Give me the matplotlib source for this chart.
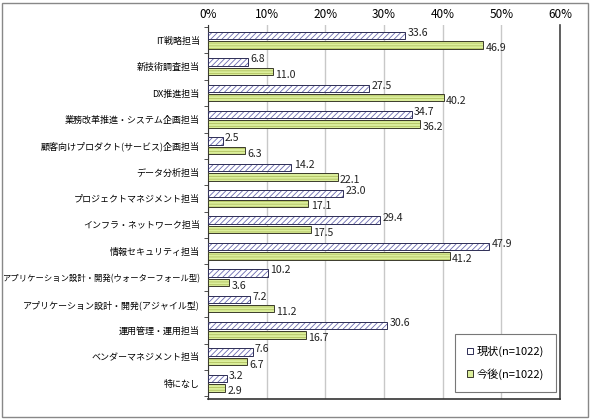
import matplotlib
matplotlib.use("Agg")
import matplotlib.pyplot as plt
from matplotlib.patches import Rectangle, Patch
import numpy as np

plt.rcParams['font.family'] = ['Noto Sans CJK JP', 'DejaVu Sans']
plt.rcParams['hatch.linewidth'] = 0.6

categories = ["IT戦略担当", "新技術調査担当", "DX推進担当", "業務改革推進・システム企画担当",
              "顧客向けプロダクト(サービス)企画担当", "データ分析担当", "プロジェクトマネジメント担当",
              "インフラ・ネットワーク担当", "情報セキュリティ担当",
              "アプリケーション設計・開発(ウォーターフォール型)", "アプリケーション設計・開発(アジャイル型)",
              "運用管理・運用担当", "ベンダーマネジメント担当", "特になし"]
current = [33.6, 6.8, 27.5, 34.7, 2.5, 14.2, 23.0, 29.4, 47.9, 10.2, 7.2, 30.6, 7.6, 3.2]
future = [46.9, 11.0, 40.2, 36.2, 6.3, 22.1, 17.1, 17.5, 41.2, 3.6, 11.2, 16.7, 6.7, 2.9]
series_names = ["現状(n=1022)", "今後(n=1022)"]
xticks = [0, 10, 20, 30, 40, 50, 60]

fig = plt.figure(figsize=(5.9, 4.2), dpi=100)
ax = fig.add_axes([0.3525, 0.05, 0.5966, 0.89])

y = np.arange(len(categories))
off = 0.18
h = 0.28
ax.barh(y - off, current, height=h, color='white', edgecolor='#6a6ab0', hatch='//////',
        linewidth=0, zorder=3)
ax.barh(y - off, current, height=h, color='none', edgecolor='#2d2d55', linewidth=0.7, zorder=4)
ax.barh(y + off, future, height=h, color='#dcef9c', edgecolor='#b0c060', hatch='------',
        linewidth=0, zorder=3)
ax.barh(y + off, future, height=h, color='none', edgecolor='#3a3a2a', linewidth=0.7, zorder=4)

for i, (c, f) in enumerate(zip(current, future)):
    ax.text(c + 0.4, i - off - 0.1, f"{c:.1f}", va='center', ha='left', fontsize=7.6, color='#222222')
    ax.text(f + 0.4, i + off + 0.12, f"{f:.1f}", va='center', ha='left', fontsize=7.6, color='#222222')

ax.set_xlim(0, 60)
ax.set_ylim(13.6, -0.57)
ax.set_xticks(xticks)
ax.set_xticklabels([f"{t}%" for t in xticks], fontsize=8.5)
ax.xaxis.tick_top()
ax.tick_params(axis='x', length=0, pad=3)
ax.set_yticks(y)
ax.set_yticklabels(categories, fontsize=6.5)
ax.tick_params(axis='y', which='major', length=0, pad=6)
ax.set_yticks(np.arange(len(categories) + 1) - 0.5, minor=True)
ax.tick_params(axis='y', which='minor', length=3, direction='out', color='#333333')
ax.grid(axis='x', color='#c8c8c8', linewidth=1.0, zorder=0)
ax.set_axisbelow(True)
ax.spines['top'].set_visible(False)
ax.spines['left'].set_color('#333333')
ax.spines['right'].set_color('#444444')
ax.spines['right'].set_linewidth(1.2)
ax.spines['bottom'].set_color('#333333')
ax.spines['bottom'].set_linewidth(1.2)

# shrink any category label that would not fit within the figure
fig.canvas.draw()
renderer = fig.canvas.get_renderer()
max_w = 196.0
for lab in ax.get_yticklabels():
    w = lab.get_window_extent(renderer).width
    if w > max_w:
        lab.set_fontsize(lab.get_fontsize() * max_w / w)

handles = [Patch(facecolor='white', edgecolor='#2d2d55', linewidth=0.7),
           Patch(facecolor='#dcef9c', edgecolor='#3a3a2a', linewidth=0.7)]
leg = ax.legend(handles, series_names, loc='lower right', bbox_to_anchor=(0.989, 0.019),
                borderaxespad=0, fontsize=8, handlelength=0.55, handleheight=0.55,
                handletextpad=0.3, labelspacing=1.0, borderpad=1.1, fancybox=False,
                framealpha=1, edgecolor='#777777')
leg.get_frame().set_linewidth(0.8)

fig.patches.append(Rectangle((0.004, 0.008), 0.992, 0.986, transform=fig.transFigure,
                             fill=False, edgecolor='#888888', linewidth=1.0))

fig.savefig("out.png", dpi=100)
